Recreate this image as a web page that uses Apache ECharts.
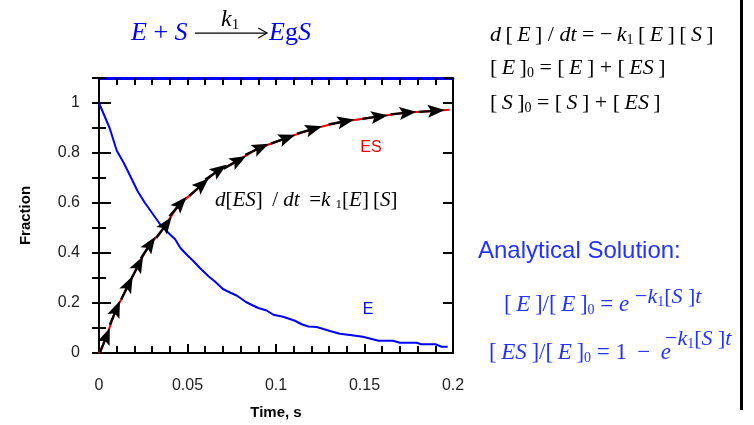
<!DOCTYPE html>
<html>
<head>
<meta charset="utf-8">
<script src="https://cdn.jsdelivr.net/npm/echarts@6/dist/echarts.min.js"></script>
<style>
  html, body { margin: 0; padding: 0; background: #ffffff; }
  #chart { width: 754px; height: 425px; }
</style>
</head>
<body>
<div id="chart"></div>
<script>
// Free enzyme fraction [E]/[E]0 over time (s)
const timeE = [0, 0.003, 0.006, 0.010, 0.014, 0.0175, 0.022, 0.026, 0.030, 0.035,
  0.040, 0.043, 0.046, 0.050, 0.053, 0.057, 0.062, 0.0655, 0.070, 0.074,
  0.078, 0.083, 0.087, 0.090, 0.0947, 0.0985, 0.104, 0.1107, 0.1145, 0.1183,
  0.123, 0.1305, 0.136, 0.1418, 0.149, 0.158, 0.166, 0.170, 0.1795, 0.182,
  0.190, 0.1936, 0.197];
const fracE = [1.0, 0.95, 0.90, 0.81, 0.76, 0.71, 0.645, 0.60, 0.56, 0.51,
  0.475, 0.455, 0.42, 0.39, 0.37, 0.34, 0.306, 0.286, 0.256, 0.242,
  0.229, 0.204, 0.19, 0.18, 0.170, 0.153, 0.145, 0.129, 0.115, 0.106,
  0.104, 0.088, 0.077, 0.072, 0.065, 0.049, 0.049, 0.041, 0.041, 0.035,
  0.035, 0.025, 0.025];

// Complex fraction [ES]/[E]0 at the integration steps (s)
const timeES = [0, 0.0034, 0.009, 0.0158, 0.0215, 0.0277, 0.0367, 0.0446, 0.0565, 0.066,
  0.0768, 0.0893, 0.104, 0.119, 0.137, 0.156, 0.172, 0.188, 0.198];
const fracES = [0, 0.052, 0.161, 0.261, 0.341, 0.422, 0.502, 0.586, 0.663, 0.723,
  0.763, 0.815, 0.855, 0.892, 0.924, 0.944, 0.960, 0.968, 0.973];

// Axis tick labels
const xTickLabels = ['0', '0.05', '0.1', '0.15', '0.2'];
const yTickLabels = ['0', '0.2', '0.4', '0.6', '0.8', '1'];

const SERIF = "'Liberation Serif', 'Times New Roman', serif";
const SANS = "'Liberation Sans', Arial, sans-serif";
const BLUE = '#0000ff';
const TEXT_BLUE = '#2233ff';
const TS = '\u2009'; // thin space used in the typeset formulas

const zip = (a, b) => a.map((v, i) => [v, b[i]]);
const esPoints = zip(timeES, fracES);

function richStyles(size, color) {
  return {
    i: { fontStyle: 'italic', fontSize: size, fontFamily: SERIF, fill: color, lineHeight: size + 2 },
    s: { fontSize: Math.round(size * 0.62), fontFamily: SERIF, fill: color, verticalAlign: 'bottom', lineHeight: Math.round(size * 0.62) }
  };
}
function eqText(x, y, text, size, color) {
  return {
    type: 'text', x: x, y: y, z: 10, silent: true,
    style: {
      text: text, fontSize: size, fontFamily: SERIF, fill: color,
      lineHeight: size + 2, align: 'left', verticalAlign: 'middle',
      rich: richStyles(size, color)
    }
  };
}
const b = s => '[' + TS + s + TS + ']';

const chart = echarts.init(document.getElementById('chart'), null, { renderer: 'canvas' });

const tickInside = (len, w) => ({ show: true, inside: true, length: len, lineStyle: { color: '#000', width: w } });

chart.setOption({
  animation: false,
  backgroundColor: '#ffffff',
  grid: { left: 99, right: 301, top: 78, bottom: 72, containLabel: false },
  xAxis: [
    {
      type: 'value', position: 'bottom', min: 0, max: 0.2, interval: 0.05,
      axisLine: { show: true, onZero: false, lineStyle: { color: '#000', width: 2 } },
      axisTick: tickInside(9, 2),
      minorTick: { show: true, splitNumber: 5, length: 7, lineStyle: { color: '#000', width: 2 } },
      splitLine: { show: false },
      axisLabel: {
        margin: 25, fontSize: 16, fontFamily: SANS, color: '#222',
        formatter: v => xTickLabels[Math.round(v / 0.05)] || ''
      },
      name: 'Time, s', nameLocation: 'middle', nameGap: 52,
      nameTextStyle: { fontSize: 15, fontWeight: 'bold', fontFamily: SANS, color: '#000' }
    },
    {
      type: 'value', position: 'top', min: 0, max: 0.2, interval: 0.05,
      axisLine: { show: true, onZero: false, lineStyle: { color: BLUE, width: 3 } },
      axisTick: tickInside(7, 2),
      minorTick: { show: true, splitNumber: 5, length: 7, lineStyle: { color: '#000', width: 2 } },
      splitLine: { show: false },
      axisLabel: { show: false }
    }
  ],
  yAxis: [
    {
      type: 'value', position: 'left', min: 0, max: 1.1, interval: 0.2,
      axisLine: { show: true, onZero: false, lineStyle: { color: '#000', width: 2 } },
      axisTick: tickInside(12, 2),
      splitLine: { show: false },
      axisLabel: {
        margin: 19, fontSize: 16, fontFamily: SANS, color: '#222', showMaxLabel: false,
        formatter: v => (v <= 1.0001 ? (yTickLabels[Math.round(v / 0.2)] || '') : '')
      },
      name: 'Fraction', nameLocation: 'middle', nameGap: 66, nameRotate: 90,
      nameTextStyle: { fontSize: 15, fontWeight: 'bold', fontFamily: SANS, color: '#000' }
    },
    {
      type: 'value', position: 'left', min: 0, max: 1.1, interval: 0.1,
      axisLine: { show: false }, axisTick: tickInside(7, 2),
      splitLine: { show: false }, axisLabel: { show: false }
    },
    {
      type: 'value', position: 'right', min: 0, max: 1.1, interval: 0.2,
      axisLine: { show: true, onZero: false, lineStyle: { color: '#000', width: 2 } },
      axisTick: tickInside(10, 2),
      splitLine: { show: false }, axisLabel: { show: false }
    },
    {
      type: 'value', position: 'right', min: 0, max: 1.1, interval: 0.1,
      axisLine: { show: false }, axisTick: tickInside(7, 2),
      splitLine: { show: false }, axisLabel: { show: false }
    }
  ],
  series: [
    {
      name: 'E', type: 'line', xAxisIndex: 0, yAxisIndex: 0,
      data: zip(timeE, fracE), showSymbol: false,
      lineStyle: { color: BLUE, width: 2 }, z: 2
    },
    {
      name: 'ES', type: 'line', xAxisIndex: 1, yAxisIndex: 0,
      data: esPoints, showSymbol: false, smooth: 0.25,
      lineStyle: { color: '#ff0000', width: 2 }, z: 3
    }
  ]
});

// Dart arrowhead with a short tail, pointing along +x, centred on the step
const DART = [[-13, -1.2], [-1.2, -1.2], [-4, -6.5], [13, 0], [-4, 6.5], [-1.2, 1.2], [-13, 1.2]];

// One arrow on every interior integration step, placed through the axis scales and
// turned along the curve direction between the neighbouring steps
const toPx = p => chart.convertToPixel({ xAxisIndex: 1, yAxisIndex: 0 }, p);
const arrows = [];
for (let i = 1; i < esPoints.length - 1; i++) {
  const p = toPx(esPoints[i]);
  const a = toPx(esPoints[i - 1]);
  const c = toPx(esPoints[i + 1]);
  arrows.push({
    type: 'polygon', x: p[0], y: p[1], rotation: Math.atan2(-(c[1] - a[1]), c[0] - a[0]),
    z: 10, silent: true, shape: { points: DART }, style: { fill: '#000' }
  });
}

// Formulas, curve annotations and the frame edge
chart.setOption({
  graphic: arrows.concat([
    // Reaction scheme
    eqText(131, 33, '{i|E} + {i|S}', 26, BLUE),
    { type: 'rect', z: 10, silent: true, shape: { x: 195, y: 32.4, width: 72, height: 1.3 }, style: { fill: '#000' } },
    { type: 'polygon', z: 10, silent: true, shape: { points: [[258.6, 27.6], [268.2, 33], [258.6, 38.4], [258, 37.4], [266, 33], [258, 28.6]] }, style: { fill: '#000' } },
    eqText(221, 20, '{i|k}{s|1}', 24, '#000'),
    eqText(269, 33, '{i|E}g{i|S}', 26, BLUE),

    // Rate law and conservation
    eqText(490, 35, '{i|d}' + TS + b('{i|E}') + ' / {i|dt} = \u2212' + TS + '{i|k}{s|1}' + TS + b('{i|E}') + TS + b('{i|S}'), 22, '#000'),
    eqText(490, 68, b('{i|E}') + '{s|0} = ' + b('{i|E}') + ' + ' + b('{i|ES}'), 22, '#000'),
    eqText(490, 103, b('{i|S}') + '{s|0} = ' + b('{i|S}') + ' + ' + b('{i|ES}'), 22, '#000'),

    // Curve annotations
    { type: 'text', x: 371, y: 148, z: 10, silent: true, style: { text: 'ES', fontSize: 16, fontFamily: SANS, fill: '#ff0000', align: 'center', verticalAlign: 'middle' } },
    { type: 'text', x: 368, y: 310, z: 10, silent: true, style: { text: 'E', fontSize: 16, fontFamily: SANS, fill: BLUE, align: 'center', verticalAlign: 'middle' } },
    eqText(215, 200, '{i|d}[{i|ES}]' + TS + ' / {i|dt}' + TS + ' ={i|k} {s|1}[{i|E}]' + TS + '[{i|S}]', 21, '#000'),

    // Analytical solution
    { type: 'text', x: 478, y: 251, z: 10, silent: true, style: { text: 'Analytical Solution:', fontSize: 24, fontFamily: SANS, fill: TEXT_BLUE, align: 'left', verticalAlign: 'middle' } },
    eqText(504, 305, b('{i|E}') + '/' + b('{i|E}') + '{s|0} = {i|e}', 23, TEXT_BLUE),
    eqText(635, 297, '\u2212{i|k}{s|1}[{i|S} ]{i|t}', 22, TEXT_BLUE),
    eqText(489, 353, b('{i|ES}') + '/' + b('{i|E}') + '{s|0} = 1' + TS + ' \u2212' + TS + ' {i|e}', 23, TEXT_BLUE),
    eqText(665, 339, '\u2212{i|k}{s|1}[{i|S} ]{i|t}', 22, TEXT_BLUE),

    // Frame edge at the right
    { type: 'rect', z: 10, silent: true, shape: { x: 740, y: 0, width: 3, height: 410 }, style: { fill: '#000' } }
  ])
});
</script>
</body>
</html>
